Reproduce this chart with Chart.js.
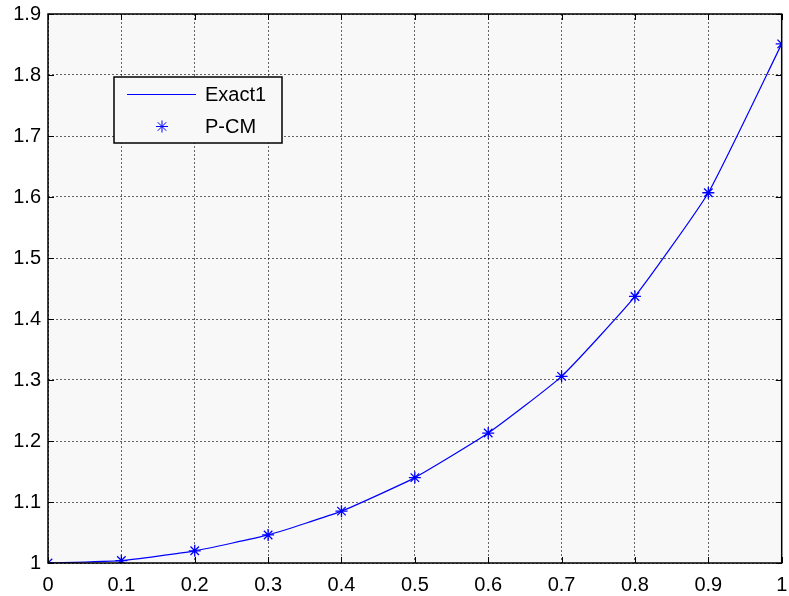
<!DOCTYPE html>
<html>
<head>
<meta charset="utf-8">
<script src="https://cdn.jsdelivr.net/npm/chart.js@4"></script>
<style>
  html, body { margin: 0; padding: 0; background: #fff; }
  #wrap { width: 789px; height: 596px; }
</style>
</head>
<body>
<div id="wrap"><canvas id="plot"></canvas></div>
<script>
// values
const xValues  = [0, 0.1, 0.2, 0.3, 0.4, 0.5, 0.6, 0.7, 0.8, 0.9, 1];
const exact1   = [1.000, 1.004, 1.020, 1.046, 1.085, 1.140, 1.213, 1.306, 1.437, 1.607, 1.851];
const pcm      = [1.000, 1.004, 1.020, 1.046, 1.085, 1.140, 1.213, 1.306, 1.437, 1.607, 1.851];
const xTicks   = [0, 0.1, 0.2, 0.3, 0.4, 0.5, 0.6, 0.7, 0.8, 0.9, 1];
const yTicks   = [1, 1.1, 1.2, 1.3, 1.4, 1.5, 1.6, 1.7, 1.8, 1.9];
const seriesNames = ["Exact1", "P-CM"];

const BLUE = "#0000ff";
const FONT = "'Liberation Sans', Arial, sans-serif";

// light grey plot background + black box + inward ticks (matlab look)
const frame = {
  id: "frame",
  beforeDraw(chart){
    const {ctx, chartArea: a} = chart;
    ctx.save();
    ctx.fillStyle = "#f8f8f8";
    ctx.fillRect(a.left, a.top, a.right - a.left, a.bottom - a.top);
    ctx.restore();
  },
  afterDatasetsDraw(chart){
    const {ctx, chartArea: a, scales} = chart;
    ctx.save();
    ctx.strokeStyle = "#000";
    ctx.lineWidth = 1.5;
    ctx.strokeRect(a.left, a.top, a.right - a.left, a.bottom - a.top);
    ctx.lineWidth = 1;
    ctx.beginPath();
    xTicks.forEach(v => {
      const px = Math.round(scales.x.getPixelForValue(v)) + 0.5;
      ctx.moveTo(px, a.bottom); ctx.lineTo(px, a.bottom - 6);
      ctx.moveTo(px, a.top); ctx.lineTo(px, a.top + 6);
    });
    yTicks.forEach(v => {
      const py = Math.round(scales.y.getPixelForValue(v)) + 0.5;
      ctx.moveTo(a.left, py); ctx.lineTo(a.left + 6, py);
      ctx.moveTo(a.right, py); ctx.lineTo(a.right - 6, py);
    });
    ctx.stroke();
    ctx.restore();
  }
};

// legend box drawn inside the axes, top-left
const boxLegend = {
  id: "boxLegend",
  afterDraw(chart){
    const {ctx} = chart;
    const x0 = 114, y0 = 77, w = 168, h = 66;
    ctx.save();
    ctx.fillStyle = "#f8f8f8";
    ctx.fillRect(x0, y0, w, h);
    ctx.strokeStyle = "#000";
    ctx.lineWidth = 1.5;
    ctx.strokeRect(x0, y0, w, h);

    ctx.strokeStyle = BLUE;
    ctx.lineWidth = 1;
    ctx.beginPath();
    ctx.moveTo(127, 94.5); ctx.lineTo(196, 94.5);
    ctx.stroke();

    Chart.helpers.drawPoint(ctx, {pointStyle: "star", radius: 6, rotation: 0, borderWidth: 1.3}, 162, 126.5);

    ctx.fillStyle = "#000";
    ctx.font = "20px " + FONT;
    ctx.textBaseline = "middle";
    ctx.fillText(seriesNames[0], 205, 95);
    ctx.fillText(seriesNames[1], 205, 127);
    ctx.restore();
  }
};

function noPad(s){
  s.paddingTop = 0; s.paddingBottom = 0; s.paddingLeft = 0; s.paddingRight = 0;
}

new Chart(document.getElementById("plot"), {
  type: "scatter",
  data: {
    datasets: [
      {
        label: seriesNames[0],
        data: xValues.map((x, i) => ({x, y: exact1[i]})),
        showLine: true,
        borderColor: BLUE,
        borderWidth: 1.2,
        pointRadius: 0,
        tension: 0.15
      },
      {
        label: seriesNames[1],
        data: xValues.map((x, i) => ({x, y: pcm[i]})),
        showLine: false,
        pointStyle: "star",
        pointRadius: 6,
        borderColor: BLUE,
        borderWidth: 1.3
      }
    ]
  },
  plugins: [frame, boxLegend],
  options: {
    responsive: true,
    maintainAspectRatio: false,
    animation: false,
    layout: { padding: { left: 0, top: 14, right: 6, bottom: 0 } },
    plugins: {
      legend: { display: false },
      tooltip: { enabled: false }
    },
    scales: {
      x: {
        type: "linear",
        min: 0, max: 1,
        afterBuildTicks: s => { s.ticks = xTicks.map(v => ({value: v})); },
        afterFit: s => { s.height = 33; noPad(s); },
        border: { display: false, dash: [2, 2] },
        grid: { color: "rgba(0,0,0,0.6)", drawTicks: false },
        ticks: {
          color: "#000", padding: 10, maxRotation: 0,
          font: { family: FONT, size: 20 },
          callback: v => String(v)
        }
      },
      y: {
        type: "linear",
        min: 1, max: 1.9,
        afterBuildTicks: s => { s.ticks = yTicks.map(v => ({value: v})); },
        afterFit: s => { s.width = 48; noPad(s); },
        border: { display: false, dash: [2, 2] },
        grid: { color: "rgba(0,0,0,0.6)", drawTicks: false },
        ticks: {
          color: "#000", padding: 7,
          font: { family: FONT, size: 20 },
          callback: v => String(v)
        }
      }
    }
  }
});
</script>
</body>
</html>
